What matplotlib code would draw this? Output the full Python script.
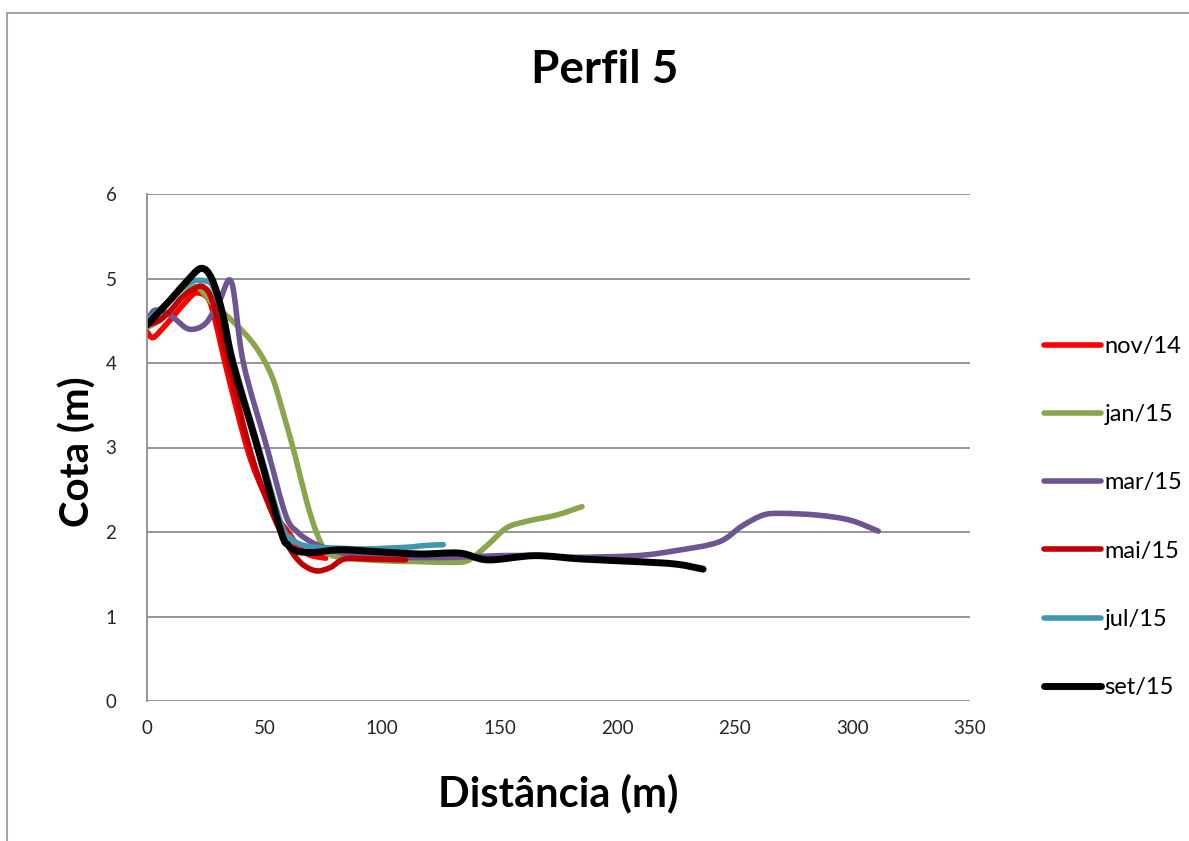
import numpy as np
import matplotlib
matplotlib.use('Agg')
import matplotlib.pyplot as plt
from matplotlib.path import Path
from matplotlib.patches import PathPatch, Rectangle
from matplotlib.lines import Line2D

plt.rcParams['font.family'] = ['Lato', 'DejaVu Sans']

# Perfil 5: distance (m) vs elevation (m) for each survey
nov14_x = [0, 2.5, 7, 12, 17, 21, 26, 29, 34.5, 43, 50, 56, 60, 64, 69, 76]
nov14_y = [4.37, 4.3, 4.42, 4.58, 4.74, 4.83, 4.76, 4.5, 3.85, 2.95, 2.45, 2.15, 2.0, 1.84, 1.73, 1.69]

jan15_x = [0, 5, 10, 15, 21, 28, 37, 46, 53, 58, 63, 68, 72, 76, 82, 100, 115, 130, 137, 145, 153, 162, 174, 185]
jan15_y = [4.42, 4.5, 4.62, 4.78, 4.9, 4.7, 4.48, 4.2, 3.85, 3.4, 2.9, 2.35, 2.0, 1.78, 1.7, 1.66, 1.65, 1.64, 1.67, 1.85, 2.05, 2.13, 2.2, 2.3]

mar15_x = [0, 3, 8, 12, 18, 25, 31, 36, 41, 51, 59, 64, 70, 77, 88, 110, 130, 150, 165, 180, 208, 225, 243, 253, 262, 270, 285, 299, 311]
mar15_y = [4.48, 4.62, 4.6, 4.52, 4.4, 4.47, 4.75, 4.95, 4.0, 3.0, 2.2, 2.0, 1.88, 1.8, 1.73, 1.7, 1.7, 1.72, 1.72, 1.7, 1.72, 1.78, 1.88, 2.07, 2.2, 2.22, 2.2, 2.14, 2.01]

mai15_x = [0, 5, 10, 15, 20, 24, 28, 34.5, 43.5, 50, 56, 61, 66, 72, 78, 84, 95, 110]
mai15_y = [4.45, 4.5, 4.62, 4.78, 4.88, 4.9, 4.72, 4.0, 3.0, 2.45, 2.05, 1.79, 1.62, 1.54, 1.58, 1.68, 1.68, 1.67]

jul15_x = [0, 5, 10, 15, 20, 25, 28, 33, 37, 47.5, 57, 61, 64, 67, 71, 80, 93, 110.5, 118, 126]
jul15_y = [4.5, 4.62, 4.75, 4.88, 4.97, 4.97, 4.9, 4.5, 4.0, 3.0, 2.1, 1.93, 1.87, 1.84, 1.82, 1.81, 1.8, 1.82, 1.84, 1.85]

set15_x = [0, 5, 11, 17, 23, 27.5, 32, 36.5, 47, 57, 60, 63, 67, 72, 82, 96, 116, 133, 145, 165, 185, 208, 225, 236.5]
set15_y = [4.45, 4.6, 4.78, 4.97, 5.12, 5.0, 4.6, 4.0, 3.0, 2.0, 1.85, 1.78, 1.76, 1.76, 1.79, 1.77, 1.74, 1.75, 1.67, 1.72, 1.68, 1.65, 1.62, 1.56]

labels = ['nov/14', 'jan/15', 'mar/15', 'mai/15', 'jul/15', 'set/15']
colors = ['#FF0000', '#8AA64C', '#6E5591', '#C00000', '#4297B0', '#000000']
widths = [4.0, 4.0, 4.0, 4.0, 4.0, 5.0]
xticks = [0, 50, 100, 150, 200, 250, 300, 350]
yticks = [0, 1, 2, 3, 4, 5, 6]


# smoothed curve through the points (bezier segments, like a spreadsheet "smooth line")
def smooth_path(x, y):
    pts = np.column_stack([x, y]).astype(float)
    n = len(pts)
    verts = [pts[0]]
    codes = [Path.MOVETO]
    for i in range(n - 1):
        p0 = pts[max(i - 1, 0)]
        p1 = pts[i]
        p2 = pts[i + 1]
        p3 = pts[min(i + 2, n - 1)]
        verts += [p1 + (p2 - p0) / 6, p2 - (p3 - p1) / 6, p2]
        codes += [Path.CURVE4] * 3
    return Path(verts, codes)


fig = plt.figure(figsize=(11.89, 8.41), dpi=100)
ax = fig.add_axes([147 / 1189, 1 - 701 / 841, 823 / 1189, 507 / 841])

series = [(nov14_x, nov14_y), (jan15_x, jan15_y), (mar15_x, mar15_y),
          (mai15_x, mai15_y), (jul15_x, jul15_y), (set15_x, set15_y)]
handles = []
for (xs, ys), lab, c, w in zip(series, labels, colors, widths):
    ax.add_patch(PathPatch(smooth_path(xs, ys), fill=False, edgecolor=c, lw=w,
                           capstyle='round', joinstyle='round'))
    handles.append(Line2D([], [], color=c, lw=w, solid_capstyle='round', label=lab))

ax.set_xlim(0, 350)
ax.set_ylim(0, 6)
ax.set_xticks(xticks)
ax.set_yticks(yticks)
ax.yaxis.grid(True, color='#8c8c8c', lw=1.3)
ax.set_axisbelow(True)
for s in ['top', 'right', 'bottom']:
    ax.spines[s].set_visible(False)
ax.spines['left'].set_color('#8c8c8c')
ax.spines['left'].set_linewidth(1.3)
ax.tick_params(length=0, labelsize=13.5, labelcolor='#262626', pad=14)
ax.tick_params(axis='y', pad=22)

fig.text(605 / 1189, 1 - 70 / 841, 'Perfil 5', ha='center', va='center',
         fontsize=33, fontweight='bold')
fig.text(558 / 1189, 1 - 793 / 841, 'Distância (m)', ha='center', va='center',
         fontsize=30, fontweight='bold')
fig.text(78 / 1189, 1 - 452 / 841, 'Cota (m)', ha='center', va='center',
         rotation=90, fontsize=29, fontweight='bold')

fig.legend(handles=handles, loc='center left', frameon=False,
           bbox_to_anchor=(1023 / 1189, 1 - 517 / 841), fontsize=17,
           handlelength=2.4, handletextpad=0.15, labelspacing=2.0)

# outer chart border
fig.patches.append(Rectangle((7 / 1189, -0.5), 2, 1.5 - 13 / 841, transform=fig.transFigure,
                             fill=False, edgecolor='#a6a6a6', lw=1.5))

fig.savefig('out.png', dpi=100, facecolor='white')
